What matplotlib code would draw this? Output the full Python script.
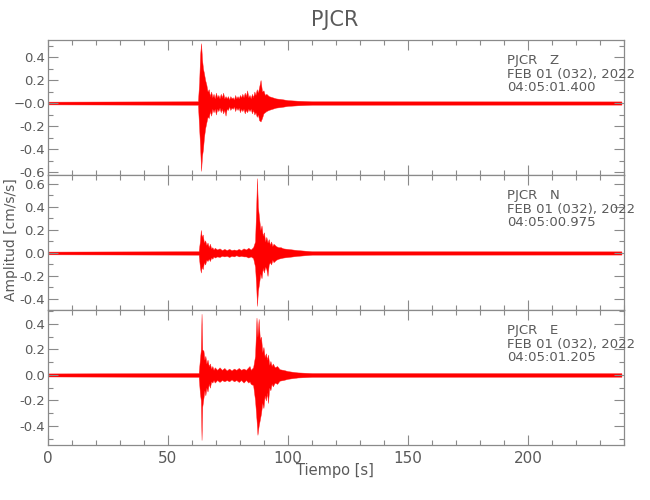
'''
Seismogram of station PJCR, three components (Z, N, E)
'''

import matplotlib
matplotlib.use('Agg')
import matplotlib.pyplot as plt
from matplotlib.ticker import MultipleLocator, FuncFormatter

# envelope of each trace: (time [s], upper, lower) in cm/s/s
z_env = [(0, 0.012, -0.012), (62.5, 0.015, -0.015), (63.0, 0.18, -0.22), (63.4, 0.42, -0.38),
         (63.8, 0.52, -0.59), (64.2, 0.38, -0.46), (64.6, 0.30, -0.40), (65.0, 0.26, -0.30),
         (65.5, 0.20, -0.22), (66.0, 0.16, -0.17), (66.5, 0.10, -0.12), (67.0, 0.12, -0.13),
         (67.5, 0.06, -0.07), (68.0, 0.10, -0.11), (68.5, 0.05, -0.05), (69.0, 0.08, -0.08),
         (69.5, 0.04, -0.05), (70.0, 0.09, -0.10), (70.5, 0.05, -0.05), (71.0, 0.07, -0.07),
         (71.5, 0.04, -0.04), (72.0, 0.08, -0.08), (72.5, 0.05, -0.05), (73.0, 0.09, -0.09),
         (73.5, 0.04, -0.06), (74.0, 0.06, -0.11), (74.5, 0.04, -0.05), (75.0, 0.06, -0.06),
         (75.5, 0.03, -0.03), (76.0, 0.06, -0.06), (76.5, 0.04, -0.04), (77.0, 0.05, -0.05),
         (77.5, 0.03, -0.03), (78.0, 0.07, -0.07), (78.5, 0.04, -0.04), (79.0, 0.06, -0.06),
         (79.5, 0.04, -0.04), (80.0, 0.07, -0.08), (80.5, 0.05, -0.05), (81.0, 0.08, -0.07),
         (81.5, 0.05, -0.05), (82.0, 0.09, -0.09), (82.5, 0.06, -0.06), (83.0, 0.11, -0.08),
         (83.5, 0.05, -0.05), (84.0, 0.07, -0.07), (84.5, 0.04, -0.05), (85.0, 0.08, -0.09),
         (85.5, 0.05, -0.06), (86.0, 0.10, -0.10), (86.5, 0.07, -0.08), (87.0, 0.12, -0.12),
         (87.5, 0.09, -0.10), (88.0, 0.14, -0.15), (88.6, 0.20, -0.16), (89.2, 0.10, -0.13),
         (89.8, 0.11, -0.09), (90.4, 0.07, -0.08), (91.0, 0.08, -0.07), (92.0, 0.06, -0.06),
         (93.5, 0.05, -0.05), (95.0, 0.04, -0.04), (97.0, 0.035, -0.035), (100.0, 0.025, -0.025),
         (104.0, 0.02, -0.02), (110.0, 0.015, -0.015), (239, 0.014, -0.014)]

n_env = [(0, 0.012, -0.012), (62.8, 0.015, -0.015), (63.3, 0.10, -0.12), (63.7, 0.20, -0.17),
         (64.1, 0.14, -0.12), (64.5, 0.16, -0.14), (65.0, 0.09, -0.08), (65.5, 0.11, -0.10),
         (66.0, 0.07, -0.06), (66.5, 0.09, -0.07), (67.0, 0.05, -0.05), (67.5, 0.08, -0.07),
         (68.0, 0.04, -0.04), (68.5, 0.05, -0.05), (69.0, 0.03, -0.03), (69.5, 0.045, -0.04),
         (70.5, 0.03, -0.03), (71.5, 0.04, -0.035), (72.5, 0.025, -0.025), (73.5, 0.035, -0.03),
         (74.5, 0.025, -0.025), (75.5, 0.035, -0.035), (76.5, 0.025, -0.025), (77.5, 0.03, -0.03),
         (78.5, 0.025, -0.02), (79.5, 0.035, -0.03), (80.5, 0.025, -0.025), (81.5, 0.04, -0.03),
         (82.5, 0.03, -0.03), (83.5, 0.045, -0.04), (84.5, 0.03, -0.03), (85.5, 0.05, -0.045),
         (86.3, 0.10, -0.12), (86.8, 0.42, -0.30), (87.1, 0.65, -0.46), (87.5, 0.40, -0.33),
         (88.0, 0.30, -0.26), (88.5, 0.20, -0.18), (89.0, 0.24, -0.22), (89.5, 0.15, -0.13),
         (90.0, 0.18, -0.17), (90.5, 0.10, -0.12), (91.0, 0.14, -0.14), (91.5, 0.09, -0.20),
         (92.0, 0.12, -0.10), (92.5, 0.07, -0.08), (93.0, 0.10, -0.10), (93.5, 0.06, -0.06),
         (94.0, 0.08, -0.08), (95.0, 0.06, -0.06), (96.0, 0.05, -0.05), (97.0, 0.05, -0.045),
         (98.0, 0.04, -0.04), (100.0, 0.035, -0.035), (104.0, 0.025, -0.025), (110.0, 0.015, -0.015),
         (239, 0.014, -0.014)]

e_env = [(0, 0.012, -0.012), (62.8, 0.015, -0.015), (63.3, 0.12, -0.14), (63.7, 0.20, -0.20),
         (64.0, 0.48, -0.51), (64.3, 0.20, -0.25), (64.8, 0.19, -0.18), (65.2, 0.12, -0.12),
         (65.6, 0.15, -0.16), (66.0, 0.09, -0.10), (66.5, 0.12, -0.13), (67.0, 0.07, -0.07),
         (67.5, 0.09, -0.10), (68.0, 0.05, -0.05), (68.5, 0.07, -0.06), (69.0, 0.04, -0.04),
         (69.5, 0.06, -0.06), (70.5, 0.04, -0.04), (71.5, 0.06, -0.055), (72.5, 0.04, -0.04),
         (73.5, 0.055, -0.05), (74.5, 0.035, -0.04), (75.5, 0.05, -0.05), (76.5, 0.035, -0.035),
         (77.5, 0.05, -0.05), (78.5, 0.04, -0.04), (79.5, 0.055, -0.055), (80.5, 0.04, -0.04),
         (81.5, 0.05, -0.06), (82.5, 0.04, -0.04), (83.5, 0.06, -0.06), (84.0, 0.07, -0.05),
         (84.5, 0.04, -0.07), (85.5, 0.06, -0.08), (86.3, 0.15, -0.20), (86.9, 0.45, -0.35),
         (87.3, 0.30, -0.47), (87.8, 0.44, -0.40), (88.3, 0.28, -0.35), (88.8, 0.30, -0.30),
         (89.3, 0.18, -0.22), (89.8, 0.22, -0.26), (90.3, 0.14, -0.16), (90.8, 0.17, -0.20),
         (91.3, 0.12, -0.14), (91.7, 0.16, -0.22), (92.2, 0.08, -0.10), (92.7, 0.11, -0.12),
         (93.2, 0.07, -0.07), (93.7, 0.09, -0.09), (94.5, 0.06, -0.06), (95.5, 0.07, -0.07),
         (96.5, 0.045, -0.045), (98.0, 0.04, -0.04), (100.0, 0.03, -0.03), (104.0, 0.02, -0.02),
         (110.0, 0.015, -0.015), (239, 0.014, -0.014)]

components = ['Z', 'N', 'E']
start_times = ['04:05:01.400', '04:05:00.975', '04:05:01.205']
date_label = 'FEB 01 (032), 2022'
station = 'PJCR'
ylims = [(-0.626, 0.548), (-0.496, 0.678), (-0.55, 0.51)]

grey = '#5a5a5a'
axis_grey = '#8a8a8a'


def style_axis(ax, zero_label):
    ax.set_xlim(0, 240)
    ax.xaxis.set_major_locator(MultipleLocator(50))
    ax.xaxis.set_minor_locator(MultipleLocator(10))
    ax.yaxis.set_major_locator(MultipleLocator(0.2))
    ax.yaxis.set_minor_locator(MultipleLocator(0.1))
    ax.yaxis.set_major_formatter(FuncFormatter(
        lambda v, p: zero_label if abs(v) < 1e-9 else '%.1f' % v))
    ax.tick_params(which='both', direction='in', top=True, right=True,
                   colors=axis_grey, labelcolor=grey, labelsize=9.5, pad=2)
    ax.tick_params(which='major', length=7, width=0.8)
    ax.tick_params(which='minor', length=3.5, width=0.8)
    for s in ax.spines.values():
        s.set_color(axis_grey)
        s.set_linewidth(0.9)


fig = plt.figure(figsize=(6.5, 5), dpi=100)
axes = []
for i, env in enumerate([z_env, n_env, e_env]):
    t, hi, lo = zip(*env)
    ax = fig.add_axes([0.0738, 0.65 - 0.27 * i, 0.886, 0.27])
    ax.fill_between(t, lo, hi, color='#ff0000', linewidth=0.3, edgecolor='#ff2020')
    ax.set_ylim(*ylims[i])
    style_axis(ax, '\u22120.0' if i == 0 else '0.0')
    if i < 2:
        ax.tick_params(labelbottom=False)
    ax.text(0.797, 0.895, '%s   %s\n%s\n%s' % (station, components[i], date_label, start_times[i]),
            transform=ax.transAxes, ha='left', va='top', fontsize=9.5, color=grey, linespacing=1.05)
    axes.append(ax)

axes[2].tick_params(axis='x', labelsize=11, pad=4)
fig.text(0.515, 0.96, station, ha='center', va='center', fontsize=15, color=grey)
fig.text(0.017, 0.52, 'Amplitud [cm/s/s]', rotation=90, ha='center', va='center', fontsize=10, color=grey)
fig.text(0.515, 0.06, 'Tiempo [s]', ha='center', va='center', fontsize=10.5, color=grey)

fig.savefig('out.png', dpi=100)
